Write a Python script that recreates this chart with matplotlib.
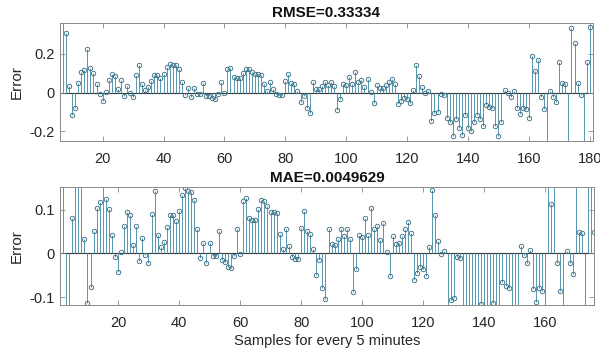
import numpy as np
import matplotlib
matplotlib.use("Agg")
import matplotlib.pyplot as plt

plt.rcParams["font.family"] = ["Liberation Sans", "DejaVu Sans"]

# prediction error per 5-minute sample (same series in both panels)
samples = np.arange(1, 182)
error = [
    0.25, 0.21, -0.16, -0.2, 0.08, 0.45, 0.40, 0.308, 0.033, -0.113,
    -0.077, 0.052, 0.104, 0.117, 0.226, 0.125, 0.101, 0.042, -0.009, -0.042,
    0.003, 0.063, 0.094, 0.087, 0.02, 0.063, -0.017, 0.036, -0.004, -0.022,
    0.09, 0.143, 0.043, 0.014, 0.027, 0.06, 0.089, 0.089, 0.075, 0.096,
    0.133, 0.15, 0.142, 0.14, 0.123, 0.055, -0.011, 0.024, -0.022, 0.025,
    -0.006, -0.005, 0.051, -0.016, -0.019, -0.03, -0.034, -0.005, 0.055, -0.002,
    0.12, 0.127, 0.082, 0.077, 0.077, 0.102, 0.123, 0.121, 0.108, 0.095,
    0.094, 0.092, 0.045, 0.01, 0.056, 0.017, -0.009, -0.013, -0.013, 0.059,
    0.097, 0.051, 0.045, 0.01, -0.05, -0.015, -0.078, -0.105, 0.055, 0.021,
    0.019, 0.034, 0.056, 0.04, 0.055, 0.033, -0.089, -0.035, 0.042, 0.038,
    0.08, 0.042, 0.104, 0.056, 0.063, 0.03, 0.07, 0.003, -0.052, 0.04,
    0.022, 0.025, 0.039, 0.055, 0.071, 0.046, -0.06, -0.044, -0.03, -0.035,
    -0.052, 0.014, 0.145, 0.087, 0.028, -0.001, 0.006, -0.146, -0.106, -0.102,
    -0.008, -0.011, -0.132, -0.15, -0.223, -0.136, -0.181, -0.22, -0.116, -0.18,
    -0.196, -0.15, -0.113, -0.137, -0.172, -0.065, -0.075, -0.078, -0.172, -0.226,
    -0.15, 0.016, -0.003, -0.023, 0.009, -0.081, -0.11, -0.08, -0.086, -0.132,
    0.19, 0.112, 0.166, -0.023, -0.087, -0.3, 0.006, -0.023, -0.048, 0.16,
    0.048, 0.046, -0.29, 0.332, 0.255, 0.048, -0.012, -0.28, 0.16, 0.34,
    0.40,
]

titles = ["RMSE=0.33334", "MAE=0.0049629"]
xlims = [(6, 181), (1, 176)]
ylims = [(-0.25, 0.36), (-0.118, 0.151)]
xticks = [list(range(20, 181, 20)), list(range(20, 161, 20))]
yticks = [[-0.2, 0, 0.2], [-0.1, 0, 0.1]]
ytick_labels = [["-0.2", "0", "0.2"], ["-0.1", "0", "0.1"]]

STEM = "#5596b0"
MARK = "#3f7489"
AXC = "#8a8a8a"
TXT = "#262626"

fig = plt.figure(figsize=(6.0, 3.51), dpi=100)
positions = [[0.1, 0.598, 0.888, 0.337], [0.1, 0.131, 0.89, 0.335]]

for i in range(2):
    ax = fig.add_axes(positions[i])
    ml, sl, bl = ax.stem(samples, error, linefmt="-", markerfmt="o", basefmt=" ")
    sl.set_color(STEM)
    sl.set_linewidth(0.7)
    ml.set_color(MARK)
    ml.set_markerfacecolor("none")
    ml.set_markersize(3.2)
    ml.set_markeredgewidth(0.65)
    bl.set_visible(False)
    ax.axhline(0, color="#333333", lw=0.8, zorder=1)

    ax.set_xlim(*xlims[i])
    ax.set_ylim(*ylims[i])
    ax.set_xticks(xticks[i])
    ax.set_yticks(yticks[i])
    ax.set_yticklabels(ytick_labels[i])
    ax.tick_params(direction="in", length=3.5, width=0.6, color=AXC,
                   top=True, right=True, labelsize=10.5, labelcolor=TXT)
    ax.tick_params(axis="x", pad=8)
    ax.tick_params(axis="y", pad=4)
    for s in ax.spines.values():
        s.set_color(AXC)
        s.set_linewidth(0.7)
    ax.set_ylabel("Error", fontsize=11, color=TXT, labelpad=4)
    ax.set_title(titles[i], fontsize=11, fontweight="bold", color="#111111", pad=4)

ax.set_xlabel("Samples for every 5 minutes", fontsize=10.5, color=TXT, labelpad=3)

fig.savefig("out.png", dpi=100, facecolor="white")
